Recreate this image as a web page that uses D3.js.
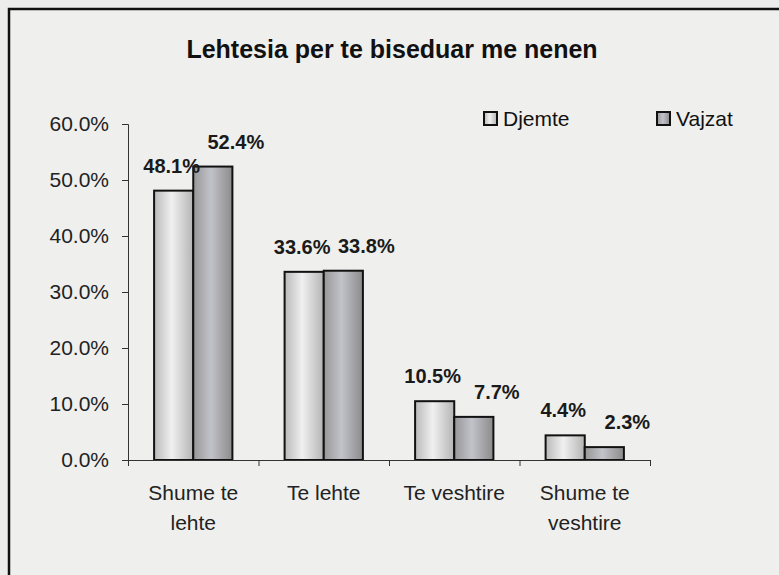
<!DOCTYPE html>
<html>
<head>
<meta charset="utf-8">
<script src="https://cdn.jsdelivr.net/npm/d3@7"></script>
<style>
  body { margin: 0; background: #ededeb; }
  svg { display: block; font-family: Arial, "Liberation Sans", sans-serif; }
</style>
</head>
<body>
<svg width="779" height="575"></svg>
<script>
// data
const categories = [["Shume te", "lehte"], ["Te lehte"], ["Te veshtire"], ["Shume te", "veshtire"]];
const seriesNames = ["Djemte", "Vajzat"];
const djemte = [48.1, 33.6, 10.5, 4.4];
const vajzat = [52.4, 33.8, 7.7, 2.3];
const yTicks = [0, 10, 20, 30, 40, 50, 60];

const svg = d3.select("svg");
const margin = {top: 124, left: 128, right: 129, bottom: 115};
const width = 779 - margin.left - margin.right;
const height = 575 - margin.top - margin.bottom;

// gradients for the bars
const defs = svg.append("defs");
function grad(id, stops) {
  const g = defs.append("linearGradient").attr("id", id).attr("x1", "0%").attr("x2", "100%");
  stops.forEach(function(s) { g.append("stop").attr("offset", s[0]).attr("stop-color", s[1]); });
}
grad("gD", [["0%", "#b9b9b9"], ["45%", "#f0f0f0"], ["100%", "#b4b4b4"]]);
grad("gV", [["0%", "#979797"], ["45%", "#c2c2ca"], ["100%", "#8b8b8b"]]);
const fills = ["url(#gD)", "url(#gV)"];

// outer frame
svg.append("rect").attr("x", 9).attr("y", 9).attr("width", 790).attr("height", 590)
  .attr("fill", "#efefed").attr("stroke", "#111").attr("stroke-width", 2.5);

svg.append("text").attr("x", 392).attr("y", 58).attr("text-anchor", "middle")
  .attr("font-size", 25).attr("font-weight", "bold").attr("fill", "#111")
  .text("Lehtesia per te biseduar me nenen");

const g = svg.append("g").attr("transform", "translate(" + margin.left + "," + margin.top + ")");

const x0 = d3.scaleBand().domain(d3.range(categories.length)).range([0, width]).paddingInner(0.4).paddingOuter(0.2);
const x1 = d3.scaleBand().domain(d3.range(seriesNames.length)).range([0, x0.bandwidth()]);
const xEdge = d3.scaleLinear().domain([0, categories.length]).range([0, width]);
const y = d3.scaleLinear().domain([0, 60]).range([height, 0]);

// y axis
const yAxis = g.append("g")
  .call(d3.axisLeft(y).tickValues(yTicks).tickSize(6).tickSizeOuter(6).tickFormat(function(d) { return d.toFixed(1) + "%"; }));
yAxis.selectAll("text").attr("font-size", 21).attr("fill", "#222").attr("x", -19);
yAxis.selectAll("line, path").attr("stroke", "#333");

// bars
const series = [djemte, vajzat];
const groups = g.selectAll(".grp").data(categories).join("g")
  .attr("transform", function(d, i) { return "translate(" + x0(i) + ",0)"; });
groups.selectAll("rect").data(function(d, i) { return series.map(function(s, k) { return {k: k, v: s[i]}; }); })
  .join("rect")
  .attr("x", function(d) { return x1(d.k); })
  .attr("y", function(d) { return y(d.v); })
  .attr("width", x1.bandwidth())
  .attr("height", function(d) { return height - y(d.v); })
  .attr("fill", function(d) { return fills[d.k]; })
  .attr("stroke", "#111").attr("stroke-width", 2);

// value labels (the Vajzat ones sit a bit to the right, as in the picture)
const labelDx = [-2, 23];
groups.selectAll(".val").data(function(d, i) { return series.map(function(s, k) { return {k: k, v: s[i]}; }); })
  .join("text")
  .attr("x", function(d) { return x1(d.k) + x1.bandwidth() / 2 + labelDx[d.k]; })
  .attr("y", function(d) { return y(d.v) - 18; })
  .attr("text-anchor", "middle").attr("font-size", 20).attr("font-weight", "bold").attr("fill", "#1a1a1a")
  .text(function(d) { return d.v.toFixed(1) + "%"; });

// x axis with ticks at category edges
const xAxis = g.append("g").attr("transform", "translate(0," + height + ")")
  .call(d3.axisBottom(xEdge).ticks(categories.length).tickSize(6).tickSizeOuter(0).tickFormat(""));
xAxis.selectAll("line, path").attr("stroke", "#333");

// category labels
g.selectAll(".cat").data(categories).join("text")
  .attr("text-anchor", "middle").attr("font-size", 21).attr("fill", "#222")
  .attr("transform", function(d, i) { return "translate(" + (x0(i) + x0.bandwidth() / 2) + "," + (height + 40) + ")"; })
  .selectAll("tspan").data(function(d) { return d; }).join("tspan")
  .attr("x", 0).attr("dy", function(d, j) { return j ? 30 : 0; })
  .text(function(d) { return d; });

// legend
const legX = [484, 657];
const leg = svg.selectAll(".leg").data(seriesNames).join("g")
  .attr("transform", function(d, i) { return "translate(" + legX[i] + ",112)"; });
leg.append("rect").attr("width", 13).attr("height", 13)
  .attr("fill", function(d, i) { return fills[i]; }).attr("stroke", "#111").attr("stroke-width", 2);
leg.append("text").attr("x", 19).attr("y", 14).attr("font-size", 21).attr("fill", "#111")
  .text(function(d) { return d; });
</script>
</body>
</html>
